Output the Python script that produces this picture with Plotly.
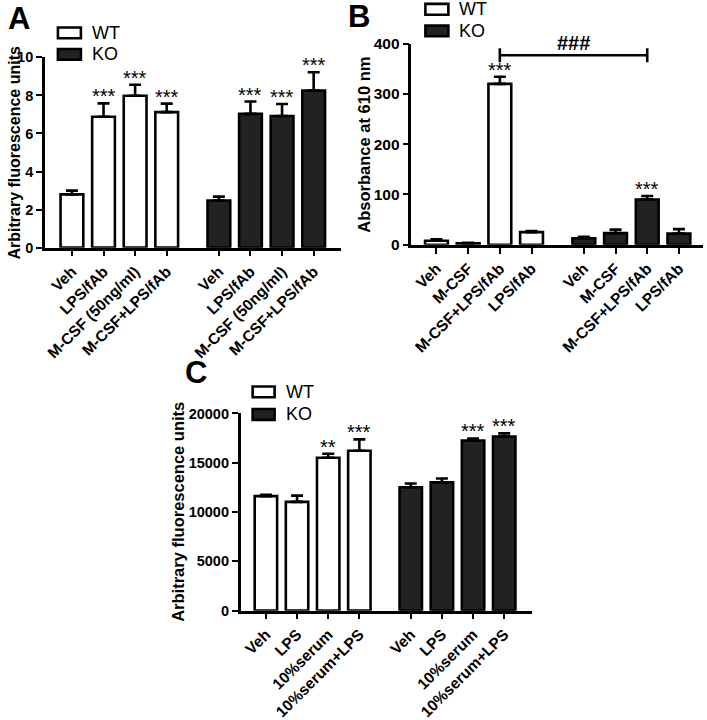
import plotly.graph_objects as go

W, H = 707, 720

# ---- data ----
a_labels = ["Veh", "LPS/fAb", "M-CSF (50ng/ml)", "M-CSF+LPS/fAb"]
a_wt = [2.8, 6.88, 7.98, 7.12]
a_wt_err = [0.2, 0.7, 0.58, 0.45]
a_ko = [2.48, 7.03, 6.92, 8.25]
a_ko_err = [0.2, 0.65, 0.63, 0.97]
a_wt_sig = ["", "***", "***", "***"]
a_ko_sig = ["", "***", "***", "***"]

b_labels = ["Veh", "M-CSF", "M-CSF+LPS/fAb", "LPS/fAb"]
b_wt = [8, 3, 320, 25]
b_wt_err = [3, 1, 14, 2]
b_ko = [13, 23, 90, 22]
b_ko_err = [3, 7, 7, 9]
b_wt_sig = ["", "", "***", ""]
b_ko_sig = ["", "", "***", ""]

c_labels = ["Veh", "LPS", "10%serum", "10%serum+LPS"]
c_wt = [11620, 11030, 15500, 16220]
c_wt_err = [130, 640, 420, 1150]
c_ko = [12520, 13010, 17260, 17650]
c_ko_err = [380, 400, 200, 330]
c_wt_sig = ["", "", "**", "***"]
c_ko_sig = ["", "", "***", "***"]

KO_OFFSET = 4.65
FONT = "Liberation Sans, Arial, sans-serif"


# the page comes out a bit squashed vertically (~0.967, +7.7px), so map wanted
# screen rows back to figure rows
def fy(y):
    return (y - 7.7) / 0.967


def paper_y(y):
    return 1 - fy(y) / H


fig = go.Figure()

panels = [
    # suffix, labels, wt, wt_err, ko, ko_err, wt_sig, ko_sig, x px, y px, xrange, yrange, dtick,
    # title, title x, title size, tick size
    ("", a_labels, a_wt, a_wt_err, a_ko, a_ko_err, a_wt_sig, a_ko_sig,
     (44, 340), (57, 251), [-0.854, 8.5], [0, 10], 2, "Arbitrary fluorescence units", 14, 16, 14.5),
    ("2", b_labels, b_wt, b_wt_err, b_ko, b_ko_err, b_wt_sig, b_ko_sig,
     (411, 703), (43, 248), [-0.79, 8.41], [0, 400], 100, "Absorbance at 610 nm", 364, 16.5, 15.5),
    ("3", c_labels, c_wt, c_wt_err, c_ko, c_ko_err, c_wt_sig, c_ko_sig,
     (240, 532), (420, 621), [-0.81, 8.55], [0, 20000], 5000, "Arbitrary fluorescence units", 177, 16.5, 14.5),
]

annotations = []
shapes = []

for (n, labels, wt, wt_err, ko, ko_err, wt_sig, ko_sig,
     xd, yd, xr, yr, dt, ytitle, tx, tsize, ksize) in panels:
    xpos_wt = list(range(len(labels)))
    xpos_ko = [KO_OFFSET + i for i in range(len(labels))]
    for xs, vals, errs, fill in [(xpos_wt, wt, wt_err, "white"), (xpos_ko, ko, ko_err, "#222222")]:
        fig.add_trace(go.Bar(
            x=xs, y=vals, width=0.72,
            marker=dict(color=fill, line=dict(color="black", width=2.6)),
            error_y=dict(type="data", symmetric=False, array=errs,
                         arrayminus=[0] * len(errs), color="black",
                         thickness=2.6, width=6),
            xaxis="x" + n, yaxis="y" + n, showlegend=False,
        ))
    for xs, vals, errs, sigs in [(xpos_wt, wt, wt_err, wt_sig), (xpos_ko, ko, ko_err, ko_sig)]:
        for xv, v, e, s in zip(xs, vals, errs, sigs):
            if s:
                annotations.append(dict(
                    x=xv, y=v + e, xref="x" + n, yref="y" + n, text=s,
                    showarrow=False, yanchor="bottom", yshift=-6,
                    font=dict(size=20, color="black", family=FONT)))
    x0, x1 = xd
    y0, y1 = yd
    fig.layout["xaxis" + n] = dict(
        domain=[x0 / W, x1 / W], anchor="y" + n, range=xr,
        tickvals=xpos_wt + xpos_ko, ticktext=["<b>" + t + "</b>" for t in labels + labels],
        tickangle=-45,
        ticks="outside", ticklen=6, tickwidth=2, tickcolor="black",
        showline=True, linecolor="black", linewidth=2.6, showgrid=False,
        zeroline=False, fixedrange=True,
        tickfont=dict(family=FONT, size=15.5, color="black"))
    fig.layout["yaxis" + n] = dict(
        domain=[paper_y(y1), paper_y(y0)], anchor="x" + n, range=yr, dtick=dt,
        tickformat="d", tickprefix="<b>", ticksuffix="</b>",
        ticks="outside", ticklen=6, tickwidth=2, tickcolor="black",
        showline=True, linecolor="black", linewidth=2.6, showgrid=False,
        zeroline=False,
        tickfont=dict(family=FONT, size=ksize, color="black"))
    annotations.append(dict(
        x=tx / W, y=paper_y((y0 + y1) / 2), xref="paper", yref="paper",
        xanchor="center", yanchor="middle",
        text="<b>" + ytitle + "</b>", textangle=-90, showarrow=False,
        font=dict(family=FONT, size=tsize, color="black")))

# panel letters
for letter, (lx, ly) in [("A", (18, 17)), ("B", (359, 15)), ("C", (195, 378))]:
    annotations.append(dict(x=lx / W, y=paper_y(ly), xref="paper", yref="paper",
                            text="<b>" + letter + "</b>", xanchor="center", yanchor="middle",
                            showarrow=False, font=dict(family=FONT, size=31, color="black")))

# legends (boxes and labels)
for (bx0, bx1, wy, ky) in [(57, 80, 32, 54), (425, 448, 8, 30), (252, 274, 398, 421)]:
    for yy, fill, txt in [(wy, "white", "WT"), (ky, "#222222", "KO")]:
        shapes.append(dict(type="rect", xref="paper", yref="paper",
                           x0=bx0 / W, x1=bx1 / W, y0=paper_y(yy - 5.5), y1=paper_y(yy + 5.5),
                           fillcolor=fill, line=dict(color="black", width=2.6)))
        annotations.append(dict(x=(bx1 + 9) / W, y=paper_y(yy), xref="paper", yref="paper",
                                text=txt, showarrow=False, xanchor="left", yanchor="middle",
                                font=dict(family=FONT, size=18, color="black")))

# ### bracket in panel B
bx_a = 2
bx_b = KO_OFFSET + 2
by = 377
shapes.append(dict(type="line", xref="x2", yref="y2", x0=bx_a, x1=bx_b, y0=by, y1=by,
                   line=dict(color="black", width=2.6)))
for xv in [bx_a, bx_b]:
    shapes.append(dict(type="line", xref="x2", yref="y2", x0=xv, x1=xv,
                       ysizemode="pixel", yanchor=by, y0=-7, y1=7,
                       line=dict(color="black", width=2.6)))
annotations.append(dict(x=(bx_a + bx_b) / 2, y=by, xref="x2", yref="y2", text="<b>###</b>",
                        showarrow=False, yanchor="bottom", yshift=-1,
                        font=dict(family=FONT, size=20, color="black")))

fig.update_layout(
    width=W, height=H, margin=dict(l=0, r=0, t=0, b=0),
    plot_bgcolor="white", paper_bgcolor="white",
    barmode="overlay", annotations=annotations, shapes=shapes,
    font=dict(family=FONT, color="black"),
)

# the page's default body margin would push the 707x720 figure off the window
fig.write_html(
    "out.html",
    config={"displayModeBar": False},
    post_script=("document.body.style.margin='0';"
                 "document.body.style.overflow='hidden';"
                 "document.documentElement.style.overflow='hidden';"),
)
